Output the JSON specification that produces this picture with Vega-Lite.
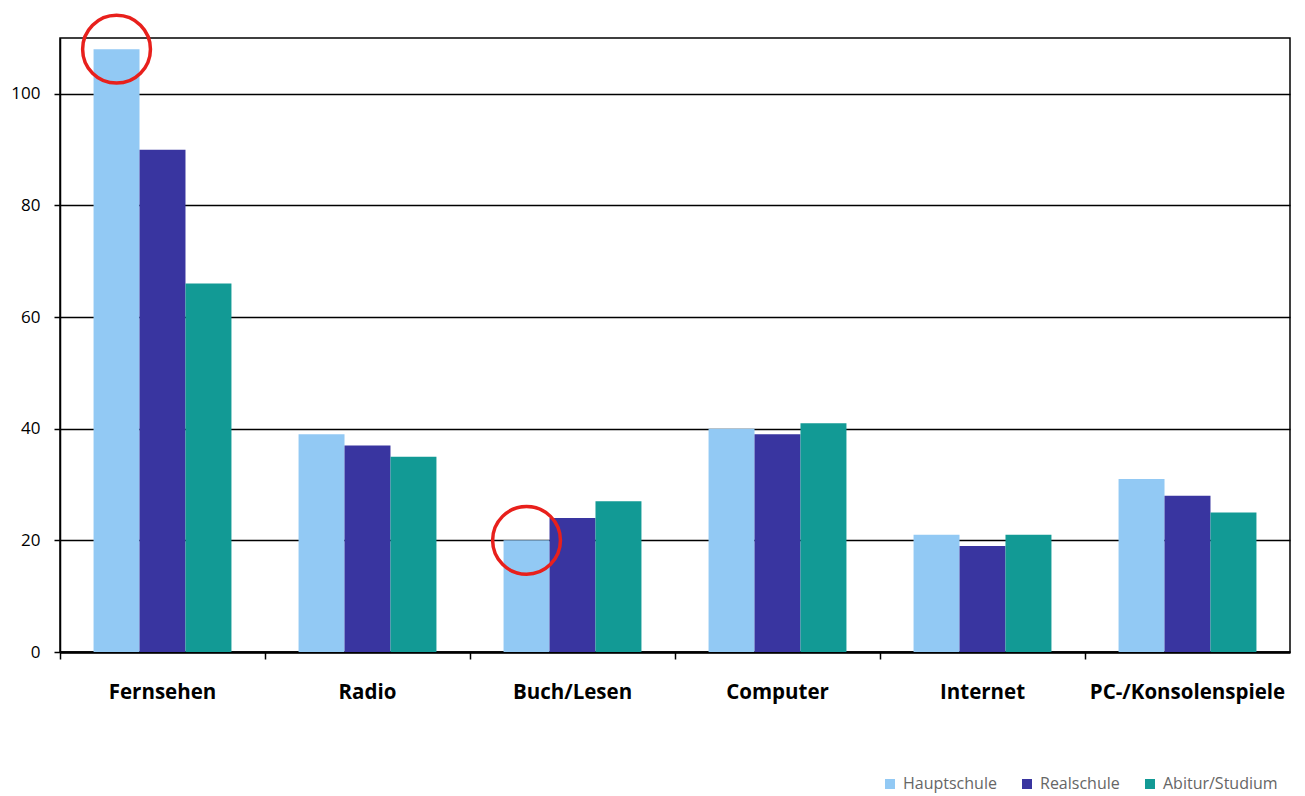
{
  "$schema": "https://vega.github.io/schema/vega-lite/v6.json",
  "width": 1230,
  "height": 614,
  "autosize": {"type": "none"},
  "padding": {"left": 60, "top": 38, "right": 15, "bottom": 144},
  "background": "white",
  "config": {
    "font": "Open Sans",
    "view": {"stroke": "black", "strokeWidth": 1.5},
    "axis": {"labelColor": "black", "titleColor": "black"}
  },
  "data": {
    "values": [
      {"Kategorie": "Fernsehen", "Schule": "Hauptschule", "Wert": 108, "mark": true},
      {"Kategorie": "Fernsehen", "Schule": "Realschule", "Wert": 90, "mark": false},
      {"Kategorie": "Fernsehen", "Schule": "Abitur/Studium", "Wert": 66, "mark": false},
      {"Kategorie": "Radio", "Schule": "Hauptschule", "Wert": 39, "mark": false},
      {"Kategorie": "Radio", "Schule": "Realschule", "Wert": 37, "mark": false},
      {"Kategorie": "Radio", "Schule": "Abitur/Studium", "Wert": 35, "mark": false},
      {"Kategorie": "Buch/Lesen", "Schule": "Hauptschule", "Wert": 20, "mark": true},
      {"Kategorie": "Buch/Lesen", "Schule": "Realschule", "Wert": 24, "mark": false},
      {"Kategorie": "Buch/Lesen", "Schule": "Abitur/Studium", "Wert": 27, "mark": false},
      {"Kategorie": "Computer", "Schule": "Hauptschule", "Wert": 40, "mark": false},
      {"Kategorie": "Computer", "Schule": "Realschule", "Wert": 39, "mark": false},
      {"Kategorie": "Computer", "Schule": "Abitur/Studium", "Wert": 41, "mark": false},
      {"Kategorie": "Internet", "Schule": "Hauptschule", "Wert": 21, "mark": false},
      {"Kategorie": "Internet", "Schule": "Realschule", "Wert": 19, "mark": false},
      {"Kategorie": "Internet", "Schule": "Abitur/Studium", "Wert": 21, "mark": false},
      {"Kategorie": "PC-/Konsolenspiele", "Schule": "Hauptschule", "Wert": 31, "mark": false},
      {"Kategorie": "PC-/Konsolenspiele", "Schule": "Realschule", "Wert": 28, "mark": false},
      {"Kategorie": "PC-/Konsolenspiele", "Schule": "Abitur/Studium", "Wert": 25, "mark": false}
    ]
  },
  "encoding": {
    "x": {
      "field": "Kategorie",
      "type": "nominal",
      "sort": null,
      "scale": {"paddingInner": 0, "paddingOuter": 0},
      "axis": {
        "title": null,
        "labelAngle": 0,
        "labelFontSize": 20.5,
        "labelFontWeight": "bold",
        "labelPadding": 23,
        "labelLimit": 400,
        "bandPosition": 0,
        "tickColor": "black",
        "tickSize": 7,
        "tickWidth": 1.5,
        "domainColor": "black",
        "domainWidth": 2.5
      }
    },
    "xOffset": {
      "field": "Schule",
      "type": "nominal",
      "sort": ["Hauptschule", "Realschule", "Abitur/Studium"],
      "scale": {"paddingInner": 0, "paddingOuter": 0.73}
    },
    "y": {
      "field": "Wert",
      "type": "quantitative",
      "scale": {"domain": [0, 110], "nice": false},
      "axis": {
        "title": null,
        "values": [0, 20, 40, 60, 80, 100],
        "labelFontSize": 17,
        "labelPadding": 14,
        "tickColor": "black",
        "tickSize": 6,
        "tickWidth": 1.5,
        "domainColor": "black",
        "domainWidth": 1.5,
        "grid": true,
        "gridColor": "black",
        "gridWidth": 1.5,
        "gridOpacity": 1
      }
    }
  },
  "layer": [
    {
      "mark": {"type": "bar"},
      "encoding": {
        "color": {
          "field": "Schule",
          "type": "nominal",
          "sort": ["Hauptschule", "Realschule", "Abitur/Studium"],
          "scale": {
            "domain": ["Hauptschule", "Realschule", "Abitur/Studium"],
            "range": ["#92c9f4", "#3935a0", "#129a95"]
          },
          "legend": {
            "title": null,
            "orient": "none",
            "direction": "horizontal",
            "legendX": 822,
            "legendY": 738,
            "symbolType": "square",
            "symbolSize": 100,
            "symbolStrokeWidth": 0,
            "labelFontSize": 16,
            "labelColor": "#666666",
            "columnPadding": 22,
            "labelOffset": 5
          }
        }
      }
    },
    {
      "transform": [{"filter": "datum.mark"}],
      "mark": {"type": "point", "shape": "circle", "filled": false, "stroke": "#e8201c", "strokeWidth": 3.5, "size": 4600, "opacity": 1}
    }
  ]
}
